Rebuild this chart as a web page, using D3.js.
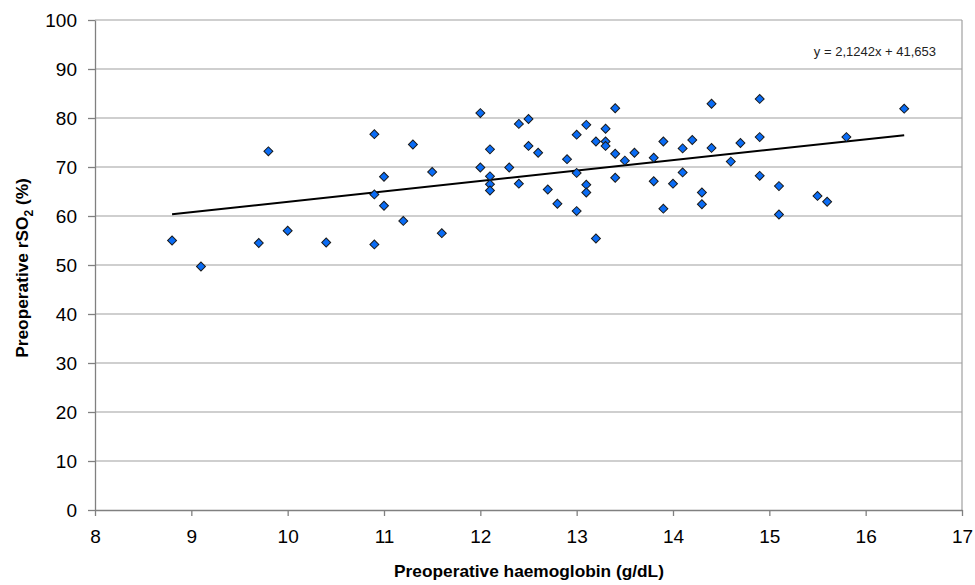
<!DOCTYPE html>
<html>
<head>
<meta charset="utf-8">
<script src="https://cdn.jsdelivr.net/npm/d3@7"></script>
<style>
  body { margin: 0; background: #fff; }
  svg text { font-family: "Liberation Sans", Arial, sans-serif; }
</style>
</head>
<body>
<div id="chart"></div>
<script>
// haemoglobin (g/dL) vs rSO2 (%)
const haemoglobin = [
  8.8, 9.1, 9.7, 9.8, 10.0, 10.4, 10.9, 10.9, 10.9, 11.0, 11.0, 11.2, 11.3,
  11.5, 11.6, 12.0, 12.0, 12.1, 12.1, 12.1, 12.1, 12.3, 12.4, 12.4, 12.5, 12.5,
  12.6, 12.7, 12.8, 12.9, 13.0, 13.0, 13.0, 13.1, 13.1, 13.1, 13.2, 13.2,
  13.3, 13.3, 13.3, 13.4, 13.4, 13.4, 13.5, 13.6, 13.8, 13.8, 13.9, 13.9,
  14.0, 14.1, 14.1, 14.2, 14.3, 14.3, 14.4, 14.4, 14.6, 14.7, 14.9, 14.9, 14.9,
  15.1, 15.1, 15.5, 15.6, 15.8, 16.4
];
const rso2 = [
  55.0, 49.7, 54.5, 73.2, 57.0, 54.6, 76.7, 64.4, 54.2, 68.0, 62.1, 59.0, 74.6,
  69.0, 56.5, 81.0, 69.9, 73.6, 68.1, 66.5, 65.2, 69.9, 78.8, 66.6, 79.8, 74.3,
  72.9, 65.4, 62.5, 71.6, 76.6, 68.8, 61.0, 78.6, 66.4, 64.8, 75.2, 55.4,
  77.8, 75.2, 74.3, 82.0, 72.7, 67.8, 71.3, 72.9, 71.9, 67.1, 75.2, 61.5,
  66.6, 73.8, 68.9, 75.5, 64.8, 62.4, 82.9, 73.9, 71.1, 74.9, 83.9, 76.1, 68.2,
  66.1, 60.3, 64.1, 62.9, 76.1, 81.9
];
const xTicks = [8, 9, 10, 11, 12, 13, 14, 15, 16, 17];
const yTicks = [0, 10, 20, 30, 40, 50, 60, 70, 80, 90, 100];
const slope = 2.1242, intercept = 41.653;
const equationLabel = "y = 2,1242x + 41,653";

const width = 975, height = 585;
const plotLeft = 95, plotRight = 962, plotTop = 20, plotBottom = 510;

const svg = d3.select("#chart").append("svg")
  .attr("width", width)
  .attr("height", height);

const x = d3.scaleLinear().domain([8, 17]).range([plotLeft, plotRight]);
const y = d3.scaleLinear().domain([0, 100]).range([plotBottom, plotTop]);

// gridlines
svg.append("g")
  .selectAll("line")
  .data(yTicks.slice(1))
  .enter().append("line")
  .attr("x1", plotLeft).attr("x2", plotRight)
  .attr("y1", d => y(d)).attr("y2", d => y(d))
  .attr("stroke", "#a0a0a0")
  .attr("stroke-width", 1.2);

// right border
svg.append("line")
  .attr("x1", plotRight).attr("x2", plotRight)
  .attr("y1", plotTop).attr("y2", plotBottom)
  .attr("stroke", "#a0a0a0")
  .attr("stroke-width", 1.2);

// axes
const xAxis = svg.append("g")
  .attr("transform", `translate(0,${plotBottom})`)
  .call(d3.axisBottom(x).tickValues(xTicks).tickSize(6).tickSizeOuter(0).tickPadding(14));
const yAxis = svg.append("g")
  .attr("transform", `translate(${plotLeft},0)`)
  .call(d3.axisLeft(y).tickValues(yTicks).tickSize(7).tickSizeOuter(0).tickPadding(11));

[xAxis, yAxis].forEach(a => {
  a.select(".domain").attr("stroke", "#808080").attr("stroke-width", 1.3);
  a.selectAll(".tick line").attr("stroke", "#808080").attr("stroke-width", 1.3);
  a.selectAll(".tick text")
    .attr("font-size", "19px")
    .attr("fill", "#000")
    .style("font-family", "'Liberation Sans', Arial, sans-serif");
});

// trend line
const xs = d3.extent(haemoglobin);
svg.append("line")
  .attr("x1", x(xs[0])).attr("y1", y(slope * xs[0] + intercept))
  .attr("x2", x(xs[1])).attr("y2", y(slope * xs[1] + intercept))
  .attr("stroke", "#000")
  .attr("stroke-width", 2);

// points
const diamond = d3.symbol().type(d3.symbolSquare).size(40);
svg.append("g")
  .selectAll("path")
  .data(haemoglobin.map((h, i) => [h, rso2[i]]))
  .enter().append("path")
  .attr("d", diamond)
  .attr("transform", d => `translate(${x(d[0])},${y(d[1])}) rotate(45)`)
  .attr("fill", "#0a6cf5")
  .attr("stroke", "#1a1a1a")
  .attr("stroke-width", 1);

// equation
svg.append("text")
  .attr("x", 936)
  .attr("y", 56)
  .attr("text-anchor", "end")
  .attr("font-size", "13px")
  .attr("fill", "#222")
  .text(equationLabel);

// axis titles
svg.append("text")
  .attr("x", 529)
  .attr("y", 577)
  .attr("text-anchor", "middle")
  .attr("font-size", "17.3px")
  .attr("font-weight", "bold")
  .text("Preoperative haemoglobin (g/dL)");

const yt = svg.append("text")
  .attr("transform", `translate(28,268) rotate(-90)`)
  .attr("text-anchor", "middle")
  .attr("font-size", "17.3px")
  .attr("font-weight", "bold");
yt.append("tspan").text("Preoperative rSO");
yt.append("tspan").attr("font-size", "12px").attr("dy", 5).text("2");
yt.append("tspan").attr("dy", -5).text(" (%)");
</script>
</body>
</html>
